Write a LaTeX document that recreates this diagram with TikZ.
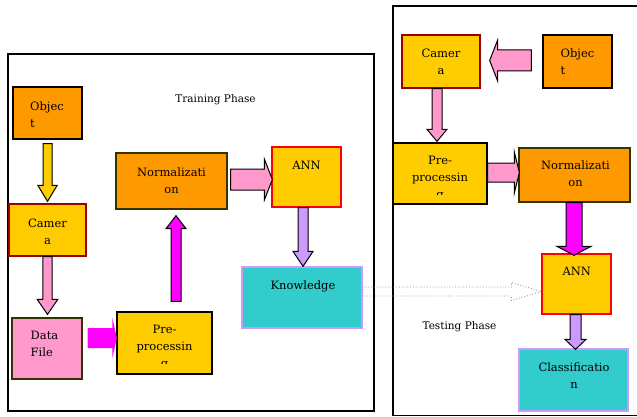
\documentclass[tikz,border=0pt]{standalone}
\usepackage{fontspec}
\setmainfont{DejaVu Serif}
\usetikzlibrary{calc}
\definecolor{cOrange}{HTML}{FF9900}
\definecolor{cYellow}{HTML}{FFCC00}
\definecolor{cPink}{HTML}{FF99CC}
\definecolor{cMag}{HTML}{FF00FF}
\definecolor{cTeal}{HTML}{33CCCC}
\definecolor{cLav}{HTML}{CC99FF}
\definecolor{cDRed}{HTML}{990000}
\definecolor{cOlive}{HTML}{333300}
\newcommand\barrow[6]{%
  \draw[#1] let \p1=(#2), \p2=(#3), \n1={atan2(\y2-\y1,\x2-\x1)}, \n2={veclen(\x2-\x1,\y2-\y1)-#6} in
  ($(\p1)+(\n1+90:#4)$) -- ($(\p1)+(\n1:\n2)+(\n1+90:#4)$) -- ($(\p1)+(\n1:\n2)+(\n1+90:#5)$) -- (\p2) -- ($(\p1)+(\n1:\n2)+(\n1-90:#5)$) -- ($(\p1)+(\n1:\n2)+(\n1-90:#4)$) -- ($(\p1)+(\n1-90:#4)$) -- cycle;}
\tikzset{
  box/.style={rectangle, draw, line width=1.3pt, inner sep=0pt},
  txt/.style={font=\fontsize{11.5}{17}\selectfont, inner sep=0pt, align=center},
  phase/.style={font=\fontsize{10.5}{13}\selectfont, inner sep=0pt},
  frame/.style={draw=black, line width=1.1pt},
  ar/.style={draw=black, line width=1pt, line join=miter},
}
\begin{document}
\begin{tikzpicture}[x=1pt,y=-1pt]
\useasboundingbox (0,0) rectangle (637,417);
% frames
\draw[frame] (8,54) rectangle (374,411);
\draw[frame] (640,6) -- (393,6) -- (393,415.5) -- (640,415.5);
% left boxes
\node[box, fill=cOrange, minimum width=69pt, minimum height=52pt] (objL) at (47.5,113) {};
\node[box, fill=cYellow, draw=cDRed, minimum width=77pt, minimum height=52pt] (camL) at (47.5,230) {};
\node[box, fill=cPink, draw=cOlive, minimum width=70pt, minimum height=61pt] (dataL) at (47,348.5) {};
\node[box, fill=cYellow, minimum width=95pt, minimum height=62pt] (preL) at (164.5,343) {};
\node[box, fill=cOrange, draw=cOlive, minimum width=111pt, minimum height=56pt] (normL) at (171.5,181) {};
\node[box, fill=cYellow, draw=red, minimum width=69pt, minimum height=60pt] (annL) at (306.5,177) {};
\node[box, fill=cTeal, draw=cLav, minimum width=120pt, minimum height=61pt] (know) at (302,297.5) {};
% right boxes
\node[box, fill=cYellow, draw=cDRed, minimum width=78pt, minimum height=53pt] (camR) at (441,61.5) {};
\node[box, fill=cOrange, minimum width=69pt, minimum height=53pt] (objR) at (577.5,61.5) {};
\node[box, fill=cYellow, minimum width=94pt, minimum height=61pt] (preR) at (440,173.5) {};
\node[box, fill=cOrange, draw=cOlive, minimum width=111pt, minimum height=54pt] (normR) at (574.5,175) {};
\node[box, fill=cYellow, draw=red, minimum width=69pt, minimum height=60pt] (annR) at (576.5,284) {};
\node[box, fill=cTeal, draw=cLav, minimum width=109pt, minimum height=62pt] (cls) at (573.5,380) {};
% texts
\node[txt, align=left] (objLt) at (47,114.5) {Objec\\t};
\node[txt] (camLt) at (47.5,231.5) {Camer\\a};
\node[txt, align=left] (dataLt) at (44.5,344) {Data\\File};
\begin{scope}
\clip (117,312) rectangle (212,363.5);
\node[txt] (preLt) at (164.5,348) {Pre-\\processin\\g};
\end{scope}
\node[txt] (normLt) at (171.5,180.5) {Normalizati\\on};
\node[txt] (annLt) at (306.5,165) {ANN};
\node[txt] (knowt) at (303,286) {Knowledge};
\node[txt] (camRt) at (441,62) {Camer\\a};
\node[txt, align=left] (objRt) at (577.5,62) {Objec\\t};
\begin{scope}
\clip (393,143) rectangle (487,194);
\node[txt] (preRt) at (440,178.5) {Pre-\\processin\\g};
\end{scope}
\node[txt] (normRt) at (575.5,174) {Normalizati\\on};
\node[txt] (annRt) at (576.8,271.7) {ANN};
\node[txt] (clst) at (574,375.5) {Classificatio\\n};
\node[phase] (train) at (215.5,100) {Training Phase};
\node[phase] (test) at (459.5,327) {Testing Phase};
% arrows
\barrow{ar, fill=cYellow}{$(objL.south)+(0,4)$}{$(camL.north)+(0,-2)$}{4.5pt}{9.7pt}{16pt}
\barrow{ar, fill=cPink}{camL.south}{$(camL.south |- dataL.north)+(0,-3)$}{4.7pt}{10.3pt}{15pt}
\barrow{draw=none, fill=cMag}{$(dataL.east)+(5,-10.5)$}{$(preL.west)+(0.5,-5)$}{10pt}{20pt}{4.5pt}
\barrow{ar, fill=cMag}{$(preL.north)+(11.5,-10)$}{$(normL.south)+(4.5,6)$}{5pt}{10pt}{13pt}
\barrow{ar, fill=cPink}{$(normL.east)+(3,-1.5)$}{$(annL.west)+(1,2.5)$}{10.5pt}{20.5pt}{8pt}
\barrow{ar, fill=cLav}{$(annL.south)+(-3.5,0)$}{$(know.north)+(1,0)$}{5pt}{10pt}{15pt}
\barrow{draw=black!45, dotted, line width=0.8pt}{$(know.east)+(0,-6)$}{$(annR.west)+(0,7.5)$}{4.5pt}{9pt}{30pt}
\barrow{ar, fill=cPink}{$(objR.west)+(-11,-1)$}{$(camR.east)+(9,-1)$}{10.5pt}{20.5pt}{8pt}
\barrow{ar, fill=cPink}{$(camR.south)+(-4,0)$}{$(preR.north)+(-3,-1)$}{5pt}{10pt}{12pt}
\barrow{ar, fill=cPink}{$(preR.east)+(0,-1)$}{$(normR.west)+(1,-2.5)$}{9.5pt}{20.5pt}{5pt}
\barrow{ar, fill=cMag}{$(normR.south)+(-0.5,0)$}{$(annR.north)+(-2.5,2)$}{8pt}{17pt}{9pt}
\barrow{ar, fill=cLav}{$(annR.south)+(-1,0)$}{$(cls.north)+(2,1)$}{5.5pt}{10.5pt}{10pt}
\end{tikzpicture}
\end{document}
